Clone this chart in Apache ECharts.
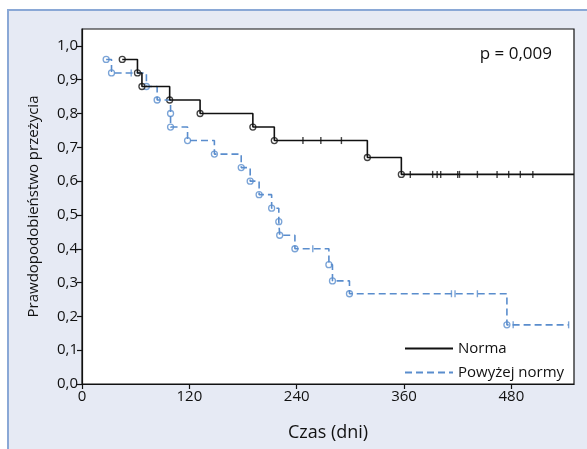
<!DOCTYPE html>
<html>
<head>
<meta charset="utf-8">
<script src="https://cdn.jsdelivr.net/npm/echarts@6/dist/echarts.min.js"></script>
<style>
  html, body { margin: 0; padding: 0; background: #fff; }
  #panel {
    position: absolute; left: 7px; top: 9px; right: 0; bottom: 0;
    background: #e6eaf4;
    border-left: 2px solid #8aa8d6;
    border-top: 2px solid #8aa8d6;
  }
  #chart { position: absolute; left: 0; top: 0; width: 587px; height: 449px; }
</style>
</head>
<body>
<div id="panel"></div>
<div id="chart"></div>
<script>
// tick labels
const xTicks = [0, 120, 240, 360, 480];
const yTicks = [0, 0.1, 0.2, 0.3, 0.4, 0.5, 0.6, 0.7, 0.8, 0.9, 1.0];

// Norma: events (circles) and censored cases (+)
const normaTimes = [45, 62, 67, 98, 132, 191, 215, 319, 357];
const normaSurv = [0.96, 0.92, 0.88, 0.84, 0.80, 0.76, 0.72, 0.67, 0.62];
const normaEnd = 550;
const normaCensTimes = [247, 267, 290, 367, 392, 397, 401, 420, 422, 442, 464, 477, 490, 504];
const normaCensSurv = [0.72, 0.72, 0.72, 0.62, 0.62, 0.62, 0.62, 0.62, 0.62, 0.62, 0.62, 0.62, 0.62, 0.62];

// Powyzej normy
const powTimes = [27, 33, 72, 84, 99, 99, 118, 148, 178, 188, 198, 212, 220, 221, 238, 276, 280, 299, 475];
const powSurv = [0.96, 0.92, 0.88, 0.84, 0.80, 0.76, 0.72, 0.68, 0.64, 0.60, 0.56, 0.52, 0.48, 0.44, 0.40, 0.353, 0.305, 0.267, 0.175];
const powEnd = 544;
const powCensTimes = [55, 258, 413, 417, 442, 482, 544];
const powCensSurv = [0.92, 0.40, 0.267, 0.267, 0.267, 0.175, 0.175];

const FONT = 'Open Sans';
const BLUE = '#5a8dcd';

function pairs(t, s) { return t.map((v, i) => [v, s[i]]); }

const chart = echarts.init(document.getElementById('chart'));

const normaLine = pairs(normaTimes, normaSurv).concat([[normaEnd, normaSurv[normaSurv.length - 1]]]);
const powLine = pairs(powTimes, powSurv).concat([[powEnd, powSurv[powSurv.length - 1]]]);

chart.setOption({
  animation: false,
  textStyle: { fontFamily: FONT },
  grid: {
    left: 82, top: 29, right: 13, bottom: 65,
    show: true, backgroundColor: '#fff', borderColor: '#111', borderWidth: 1.2,
  },
  xAxis: {
    type: 'value', min: 0, max: 550,
    name: 'Czas (dni)', nameLocation: 'middle', nameGap: 40,
    nameTextStyle: { fontSize: 18, color: '#111', fontFamily: FONT },
    axisLine: { lineStyle: { color: '#111', width: 1.2 } },
    axisTick: { show: true, length: 5, customValues: xTicks, lineStyle: { color: '#111', width: 1.2 } },
    axisLabel: { customValues: xTicks, fontSize: 15, color: '#111', margin: 5, fontFamily: FONT },
    splitLine: { show: false },
  },
  yAxis: {
    type: 'value', min: 0, max: 1.05,
    name: 'Prawdopodobieństwo przeżycia', nameLocation: 'middle', nameGap: 41,
    nameTextStyle: { fontSize: 15, color: '#111', fontFamily: FONT },
    axisLine: { show: true, lineStyle: { color: '#111', width: 1.2 } },
    axisTick: { show: true, length: 5, customValues: yTicks, lineStyle: { color: '#111', width: 1.2 } },
    axisLabel: {
      customValues: yTicks, fontSize: 15, color: '#111', margin: 4, fontFamily: FONT,
      formatter: (v) => v.toFixed(1).replace('.', ','),
    },
    splitLine: { show: false },
  },
  legend: {
    data: ['Norma', 'Powyżej normy'],
    orient: 'vertical', left: 404, top: 341, padding: 0,
    itemWidth: 48, itemHeight: 14, itemGap: 9,
    itemStyle: { opacity: 0 },
    textStyle: { fontSize: 15, color: '#111', fontFamily: FONT },
  },
  graphic: [{
    type: 'text', right: 35, top: 46,
    style: { text: 'p = 0,009', font: '17px "Open Sans"', fill: '#111' },
  }],
  series: [
    {
      name: 'Powyżej normy', type: 'line', step: 'end', symbol: 'none', showSymbol: false,
      data: powLine, color: BLUE,
      lineStyle: { color: BLUE, width: 1.6, type: [7, 4] },
    },
    {
      name: 'pow-cens', type: 'scatter', symbol: 'rect', symbolSize: [1.4, 7],
      data: pairs(powCensTimes, powCensSurv), itemStyle: { color: BLUE },
    },
    {
      name: 'pow-ev', type: 'scatter', symbol: 'circle', symbolSize: 6,
      data: pairs(powTimes, powSurv),
      itemStyle: { color: '#fff', borderColor: BLUE, borderWidth: 1.3 },
    },
    {
      name: 'Norma', type: 'line', step: 'end', symbol: 'none', showSymbol: false,
      data: normaLine, color: '#111',
      lineStyle: { color: '#111', width: 1.6 },
    },
    {
      name: 'norma-cens', type: 'scatter', symbol: 'rect', symbolSize: [1.4, 7],
      data: pairs(normaCensTimes, normaCensSurv), itemStyle: { color: '#111' },
    },
    {
      name: 'norma-ev', type: 'scatter', symbol: 'circle', symbolSize: 6,
      data: pairs(normaTimes, normaSurv),
      itemStyle: { color: '#fff', borderColor: '#111', borderWidth: 1.3 },
    },
  ],
});
</script>
</body>
</html>
